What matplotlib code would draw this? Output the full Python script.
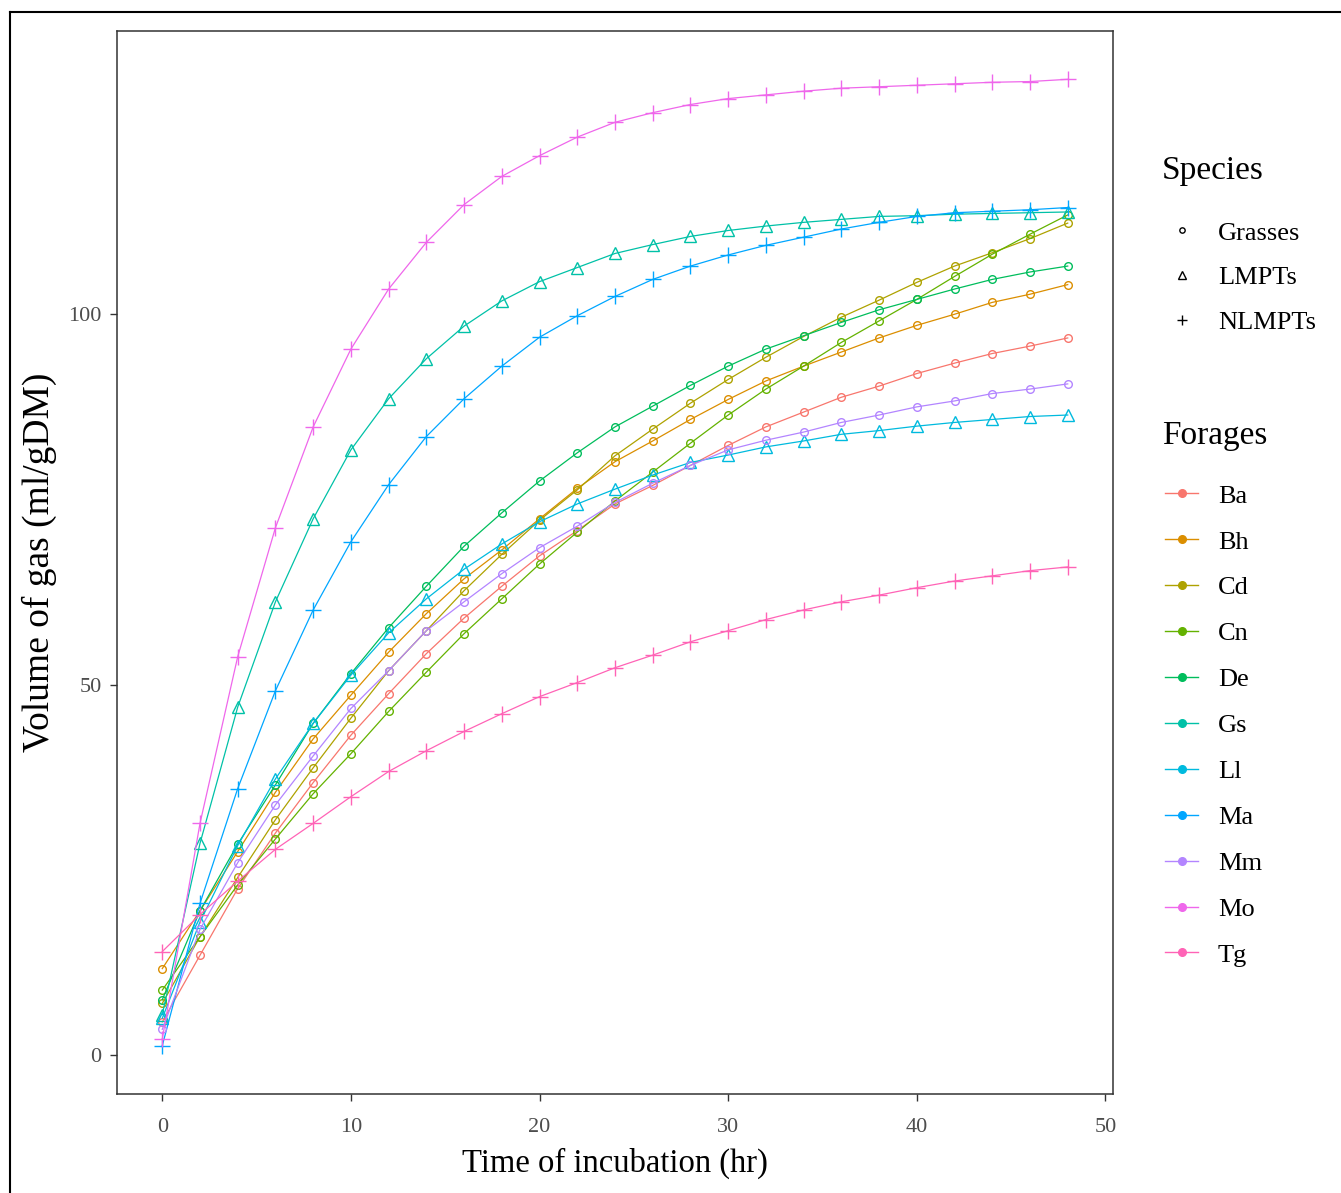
import numpy as np
import matplotlib.pyplot as plt
from matplotlib.lines import Line2D

plt.rcParams['font.family'] = ['Liberation Serif', 'DejaVu Serif']

# incubation times (hr)
time = np.arange(0, 49, 2)

forages = ['Ba', 'Bh', 'Cd', 'Cn', 'De', 'Gs', 'Ll', 'Ma', 'Mm', 'Mo', 'Tg']
forage_species = ['Grasses', 'Grasses', 'Grasses', 'Grasses', 'Grasses',
                  'LMPTs', 'LMPTs', 'NLMPTs', 'Grasses', 'NLMPTs', 'NLMPTs']
species = ['Grasses', 'LMPTs', 'NLMPTs']

# gas volume (ml/gDM)
ba = [4.5, 13.5, 22.5, 30, 36.8, 43.2, 48.8, 54.2, 59, 63.3, 67.4, 70.8, 74.4,
      76.9, 79.6, 82.3, 84.8, 86.8, 88.8, 90.3, 92, 93.4, 94.7, 95.7, 96.8]
bh = [11.7, 19.5, 27.5, 35.5, 42.7, 48.6, 54.4, 59.6, 64.3, 68.2, 72.4, 76.5, 80.1,
      82.9, 85.8, 88.5, 91, 93, 94.9, 96.8, 98.5, 100, 101.6, 102.7, 104]
cd = [7, 16, 24, 31.8, 38.8, 45.5, 51.9, 57.3, 62.7, 67.6, 72.2, 76.3, 80.9,
      84.5, 88, 91.2, 94.2, 97, 99.6, 101.9, 104.3, 106.5, 108.3, 110.2, 112.3]
cn = [8.8, 16, 23, 29.2, 35.3, 40.7, 46.4, 51.7, 56.9, 61.6, 66.3, 70.6, 74.8,
      78.7, 82.6, 86.4, 89.9, 93, 96.2, 99.1, 102, 105.1, 108.1, 110.8, 113.4]
de = [7.5, 19.5, 28.5, 36.5, 44.8, 51.5, 57.7, 63.3, 68.7, 73.2, 77.5, 81.3, 84.8,
      87.6, 90.4, 93, 95.3, 97.1, 98.9, 100.6, 102, 103.4, 104.7, 105.7, 106.5]
gs = [5.5, 28.6, 47, 61.2, 72.4, 81.7, 88.6, 94, 98.4, 101.8, 104.4, 106.3, 108.2,
      109.4, 110.5, 111.3, 111.9, 112.4, 112.8, 113.2, 113.3, 113.5, 113.6, 113.7, 113.8]
ll = [5, 18, 28.3, 37.3, 44.8, 51.3, 57, 61.6, 65.6, 69, 72, 74.4, 76.4,
      78.3, 80, 81, 82.1, 82.9, 83.8, 84.3, 84.9, 85.4, 85.8, 86.2, 86.4]
ma = [1.3, 20.5, 36, 49.2, 60.1, 69.3, 77, 83.5, 88.6, 93, 96.9, 99.8, 102.4,
      104.7, 106.5, 108, 109.3, 110.4, 111.5, 112.4, 113.2, 113.7, 113.9, 114.1, 114.4]
mm = [3.5, 17, 26, 33.8, 40.4, 46.8, 51.9, 57.3, 61.2, 65, 68.5, 71.4, 74.6,
      77.2, 79.6, 81.7, 83, 84.1, 85.4, 86.4, 87.5, 88.3, 89.3, 89.9, 90.6]
mo = [2.2, 31.3, 53.8, 71.2, 84.8, 95.3, 103.4, 109.7, 114.8, 118.6, 121.4, 123.9, 125.9,
      127.2, 128.3, 129.1, 129.6, 130.1, 130.5, 130.7, 130.9, 131.1, 131.3, 131.4, 131.7]
tg = [14, 19, 23.5, 27.8, 31.3, 34.9, 38.3, 41.1, 43.7, 46.1, 48.4, 50.3, 52.3,
      54, 55.8, 57.3, 58.8, 60.1, 61.2, 62.1, 63.1, 64, 64.7, 65.4, 65.9]

volumes = [ba, bh, cd, cn, de, gs, ll, ma, mm, mo, tg]

# ggplot default hue palette, 11 levels
colors = ['#F8766D', '#DB8E00', '#AEA200', '#64B200', '#00BD5C', '#00C1A7',
          '#00BADE', '#00A6FF', '#B385FF', '#EF67EB', '#FF63B6']
markers = {'Grasses': 'o', 'LMPTs': '^', 'NLMPTs': '+'}
msizes = {'Grasses': 5.5, 'LMPTs': 8.5, 'NLMPTs': 11}

W, H = 1341, 1193
fig = plt.figure(figsize=(W / 100, H / 100), dpi=100)
ax = fig.add_axes([117 / W, 1 - 1094 / H, (1113 - 117) / W, (1094 - 31) / H])

for name, sp, vals, col in zip(forages, forage_species, volumes, colors):
    ax.plot(time, vals, color=col, lw=0.9, marker=markers[sp],
            ms=msizes[sp], mfc='none', mec=col, mew=1.0)

allv = np.concatenate([np.array(v) for v in volumes])
pad = 0.05 * (allv.max() - allv.min())
ax.set_ylim(allv.min() - pad, allv.max() + pad)
ax.set_xlim(-2.4, 50.4)
ax.set_xticks([0, 10, 20, 30, 40, 50])
ax.set_yticks([0, 50, 100])

for s in ax.spines.values():
    s.set_linewidth(1.1)
    s.set_color('#333333')
ax.tick_params(direction='out', length=5, width=1, color='#333333',
               labelcolor='#4D4D4D', labelsize=16)
ax.tick_params(axis='x', pad=12)
ax.tick_params(axis='y', pad=6)
ax.set_xlabel('Time of incubation (hr)', fontsize=23.5, labelpad=8)
ax.set_ylabel('Volume of gas (ml/gDM)', fontsize=27, labelpad=8)

# legend titles as plain text, keys as frameless legends
fig.text(1162 / W, 1 - 171 / H, 'Species', fontsize=24, va='center', ha='left')
fig.text(1162 / W, 1 - 436 / H, 'Forages', fontsize=24, va='center', ha='left')

sp_handles = [Line2D([], [], ls='none', marker=markers[s], ms=msizes[s] * 0.7,
                     mfc='none', mec='black', color='black', mew=1.0) for s in species]
fig.legend(sp_handles, species, loc='upper left',
           bbox_to_anchor=(1152 / W, 1 - 208 / H), frameon=False, borderpad=0,
           fontsize=19, labelspacing=0.8, handlelength=1.25, handletextpad=0.75)

fg_handles = [Line2D([], [], color=c, lw=1.0, marker='o', ms=5.5, mfc=c, mec=c)
              for c in colors]
fig.legend(fg_handles, forages, loc='upper left',
           bbox_to_anchor=(1152 / W, 1 - 471 / H), frameon=False, borderpad=0,
           fontsize=19, labelspacing=0.85, handlelength=1.25, handletextpad=0.75)

# outer frame (left and top edges visible)
fig.add_artist(Line2D([10 / W, 10 / W], [0, 1 - 12 / H], color='black',
                      lw=1.5, transform=fig.transFigure))
fig.add_artist(Line2D([10 / W, 1], [1 - 12 / H, 1 - 12 / H], color='black',
                      lw=1.5, transform=fig.transFigure))

fig.savefig('out.png', dpi=100)
